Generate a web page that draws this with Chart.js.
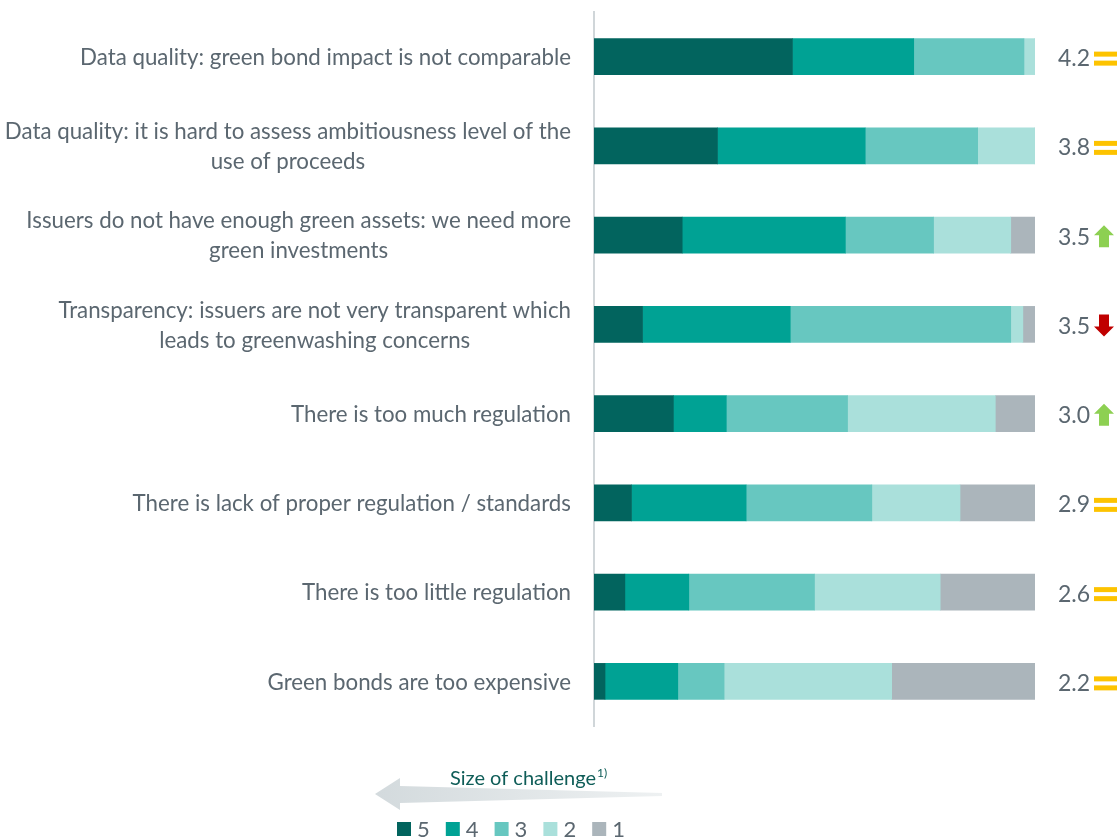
<!DOCTYPE html>
<html>
<head>
<meta charset="utf-8">
<title>Green bond challenges</title>
<script src="https://cdn.jsdelivr.net/npm/chart.js@4.4.1/dist/chart.umd.min.js"></script>
<style>
  html, body { margin: 0; padding: 0; background: #ffffff; }
  #wrap { width: 1120px; height: 838px; }
</style>
</head>
<body>
<div id="wrap"><canvas id="chart" width="1120" height="838"></canvas></div>
<script>
// Survey items (multi-line labels are arrays)
const categories = [
  'Data quality: green bond impact is not comparable',
  ['Data quality: it is hard to assess ambitiousness level of the', 'use of proceeds'],
  ['Issuers do not have enough green assets: we need more', 'green investments'],
  ['Transparency: issuers are not very transparent which', 'leads to greenwashing concerns'],
  'There is too much regulation',
  'There is lack of proper regulation / standards',
  'There is too little regulation',
  'Green bonds are too expensive'
];

// Share of respondents (%) per rating, 5 = biggest challenge
const rating5 = [45, 28, 20, 11, 18, 8.5, 7, 2.5];
const rating4 = [27.5, 33.5, 37, 33.5, 12, 26, 14.5, 16.5];
const rating3 = [25, 25.5, 20, 50, 27.5, 28.5, 28.5, 10.5];
const rating2 = [2.5, 13, 17.5, 2.75, 33.5, 20, 28.5, 38];
const rating1 = [0, 0, 5.5, 2.75, 9, 17, 21.5, 32.5];

const ratingLabels = ['5', '4', '3', '2', '1'];

// Average score and change versus previous survey
const scores = ['4.2', '3.8', '3.5', '3.5', '3.0', '2.9', '2.6', '2.2'];
const trends = ['same', 'same', 'up', 'down', 'up', 'same', 'same', 'same'];

const legendTitle = 'Size of challenge';
const legendNote = '1)';

const COLORS = ['#02645e', '#00a294', '#67c7c0', '#aae0db', '#abb5bb'];
const TEXT = '#5b6770';
const FONT = 'Lato, "Open Sans", sans-serif';

// Category labels: block right-aligned next to the axis, lines centred within the block
const labelPlugin = {
  id: 'labelPlugin',
  afterDraw(chart) {
    const ctx = chart.ctx;
    const y = chart.scales.y;
    const right = y.right - 23;
    const lineH = 30;
    ctx.save();
    ctx.fillStyle = TEXT;
    ctx.font = '22.3px ' + FONT;
    ctx.textAlign = 'center';
    ctx.textBaseline = 'middle';
    chart.data.labels.forEach((lab, i) => {
      const lines = Array.isArray(lab) ? lab : [lab];
      const w = Math.max(...lines.map(l => ctx.measureText(l).width));
      const cx = right - w / 2;
      const cy = y.getPixelForValue(i);
      const y0 = cy - (lines.length - 1) * lineH / 2;
      lines.forEach((l, k) => ctx.fillText(l, cx, y0 + k * lineH + 1));
    });
    ctx.restore();
  }
};

const scorePlugin = {
  id: 'scorePlugin',
  afterDatasetsDraw(chart) {
    const ctx = chart.ctx;
    const y = chart.scales.y;
    ctx.save();
    scores.forEach((s, i) => {
      const cy = y.getPixelForValue(i);
      ctx.fillStyle = TEXT;
      ctx.font = '23px ' + FONT;
      ctx.textAlign = 'left';
      ctx.textBaseline = 'middle';
      ctx.fillText(s, 1058, cy + 2);
      const ix = 1094;
      const t = trends[i];
      if (t === 'same') {
        ctx.fillStyle = '#fdc300';
        ctx.fillRect(ix, cy - 5, 23, 5);
        ctx.fillRect(ix, cy + 4, 23, 5);
      } else {
        const up = t === 'up';
        ctx.fillStyle = up ? '#8dd052' : '#c00000';
        const top = cy - 10, bot = cy + 12, cx = ix + 10;
        ctx.beginPath();
        if (up) {
          ctx.moveTo(cx, top);
          ctx.lineTo(cx + 10, top + 10);
          ctx.lineTo(cx + 5, top + 10);
          ctx.lineTo(cx + 5, bot);
          ctx.lineTo(cx - 5, bot);
          ctx.lineTo(cx - 5, top + 10);
          ctx.lineTo(cx - 10, top + 10);
        } else {
          ctx.moveTo(cx, bot);
          ctx.lineTo(cx + 10, bot - 10);
          ctx.lineTo(cx + 5, bot - 10);
          ctx.lineTo(cx + 5, top);
          ctx.lineTo(cx - 5, top);
          ctx.lineTo(cx - 5, bot - 10);
          ctx.lineTo(cx - 10, bot - 10);
        }
        ctx.closePath();
        ctx.fill();
      }
    });
    ctx.restore();
  }
};

const legendPlugin = {
  id: 'legendPlugin',
  afterDraw(chart) {
    const ctx = chart.ctx;
    ctx.save();
    // arrow pointing towards larger challenge
    const g = ctx.createLinearGradient(375, 0, 662, 0);
    g.addColorStop(0, '#d3dadd');
    g.addColorStop(1, '#eef1f2');
    ctx.fillStyle = g;
    ctx.beginPath();
    ctx.moveTo(375, 794);
    ctx.lineTo(400, 778);
    ctx.lineTo(400, 786);
    ctx.lineTo(662, 793);
    ctx.lineTo(662, 796);
    ctx.lineTo(400, 803);
    ctx.lineTo(400, 810);
    ctx.closePath();
    ctx.fill();

    // title
    ctx.fillStyle = '#0f5d58';
    ctx.font = '20px ' + FONT;
    ctx.textAlign = 'left';
    ctx.textBaseline = 'alphabetic';
    ctx.fillText(legendTitle, 450, 785);
    const w = ctx.measureText(legendTitle).width;
    ctx.font = '12px ' + FONT;
    ctx.fillText(legendNote, 450 + w + 1, 777);

    // items
    chart.data.datasets.forEach((ds, i) => {
      const x = 397 + i * 48.8;
      ctx.fillStyle = ds.backgroundColor;
      ctx.fillRect(x, 822, 14, 14);
      ctx.fillStyle = TEXT;
      ctx.font = '22px ' + FONT;
      ctx.textBaseline = 'middle';
      ctx.fillText(ds.label, x + 20, 830);
    });
    ctx.restore();
  }
};

const series = [rating5, rating4, rating3, rating2, rating1];

new Chart(document.getElementById('chart'), {
  type: 'bar',
  data: {
    labels: categories,
    datasets: series.map((d, i) => ({
      label: ratingLabels[i],
      data: d,
      backgroundColor: COLORS[i],
      borderWidth: 0,
      barThickness: 36
    }))
  },
  options: {
    indexAxis: 'y',
    responsive: false,
    animation: false,
    layout: { padding: { left: 0, right: 85, top: 12, bottom: 112 } },
    plugins: {
      legend: { display: false },
      tooltip: { enabled: false }
    },
    scales: {
      x: {
        stacked: true,
        min: 0,
        max: 100,
        display: false
      },
      y: {
        stacked: true,
        afterFit(scale) {
          scale.width = 594;
          scale.paddingTop = 0;
          scale.paddingBottom = 0;
        },
        grid: { display: true, drawOnChartArea: false, drawTicks: false },
        border: { display: true, color: '#d0d6d9', width: 2 },
        ticks: { display: false }
      }
    }
  },
  plugins: [labelPlugin, scorePlugin, legendPlugin]
});
</script>
</body>
</html>
